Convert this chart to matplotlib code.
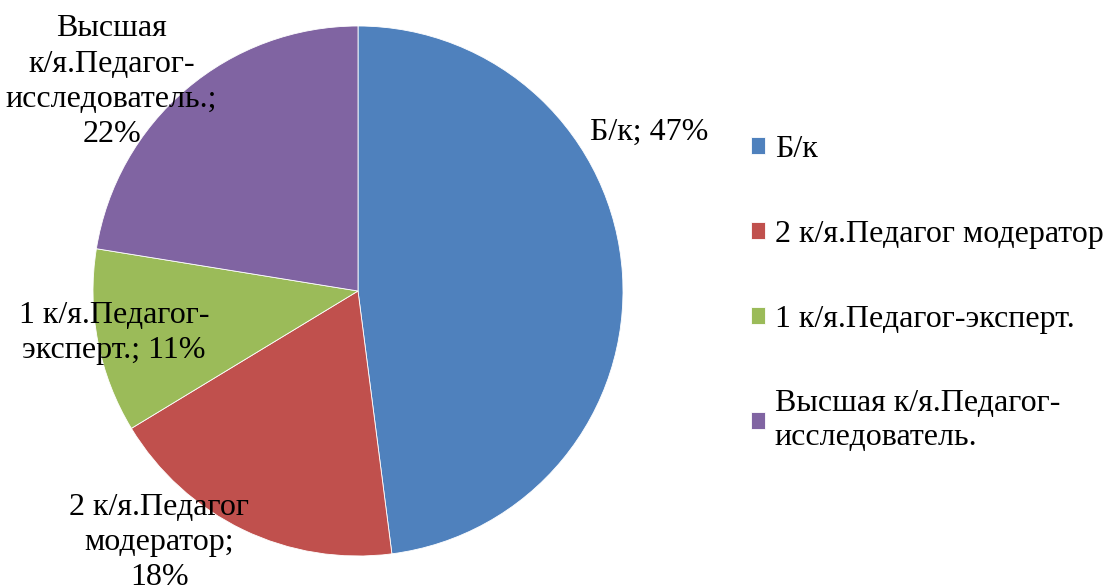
import matplotlib.pyplot as plt

plt.rcParams['font.family'] = ['Liberation Serif', 'DejaVu Serif']

categories = ['Б/к', '2 к/я.Педагог модератор', '1 к/я.Педагог-эксперт.',
              'Высшая к/я.Педагог-\nисследователь.']
values = [47, 18, 11, 22]
label_texts = ['Б/к; 47%', '2 к/я.Педагог\nмодератор;\n18%',
               '1 к/я.Педагог-\nэксперт.; 11%',
               'Высшая\nк/я.Педагог-\nисследователь.;\n22%']
colors = ['#4F81BD', '#C0504D', '#9BBB59', '#8064A2']

# label centres relative to the pie (in radius units)
label_pos = [(1.10, 0.60), (-0.75, -0.95), (-0.92, -0.16), (-0.93, 0.79)]

W, H = 1106, 588
fig = plt.figure(figsize=(W / 100, H / 100), dpi=100)
cx, cy, r = 358, 297, 265
ax = fig.add_axes([(cx - r) / W, (cy - r) / H, 2 * r / W, 2 * r / H])

wedges, _ = ax.pie(values, colors=colors, startangle=90, counterclock=False,
                   radius=1, wedgeprops=dict(linewidth=0.6, edgecolor='white'))
ax.set_xlim(-1, 1)
ax.set_ylim(-1, 1)
ax.set_aspect('equal')

for txt, (x, y) in zip(label_texts, label_pos):
    ax.text(x, y, txt, ha='center', va='center', fontsize=23, linespacing=1.28)

leg = fig.legend(wedges, categories, loc='upper left', bbox_to_anchor=(722 / W, 1 - 106 / H),
                 frameon=False, fontsize=23, handlelength=0.45, handleheight=0.45,
                 handletextpad=0.3, labelspacing=1.75)
for t in leg.get_texts():
    t.set_linespacing(1.2)

fig.savefig('out.png', dpi=100)
